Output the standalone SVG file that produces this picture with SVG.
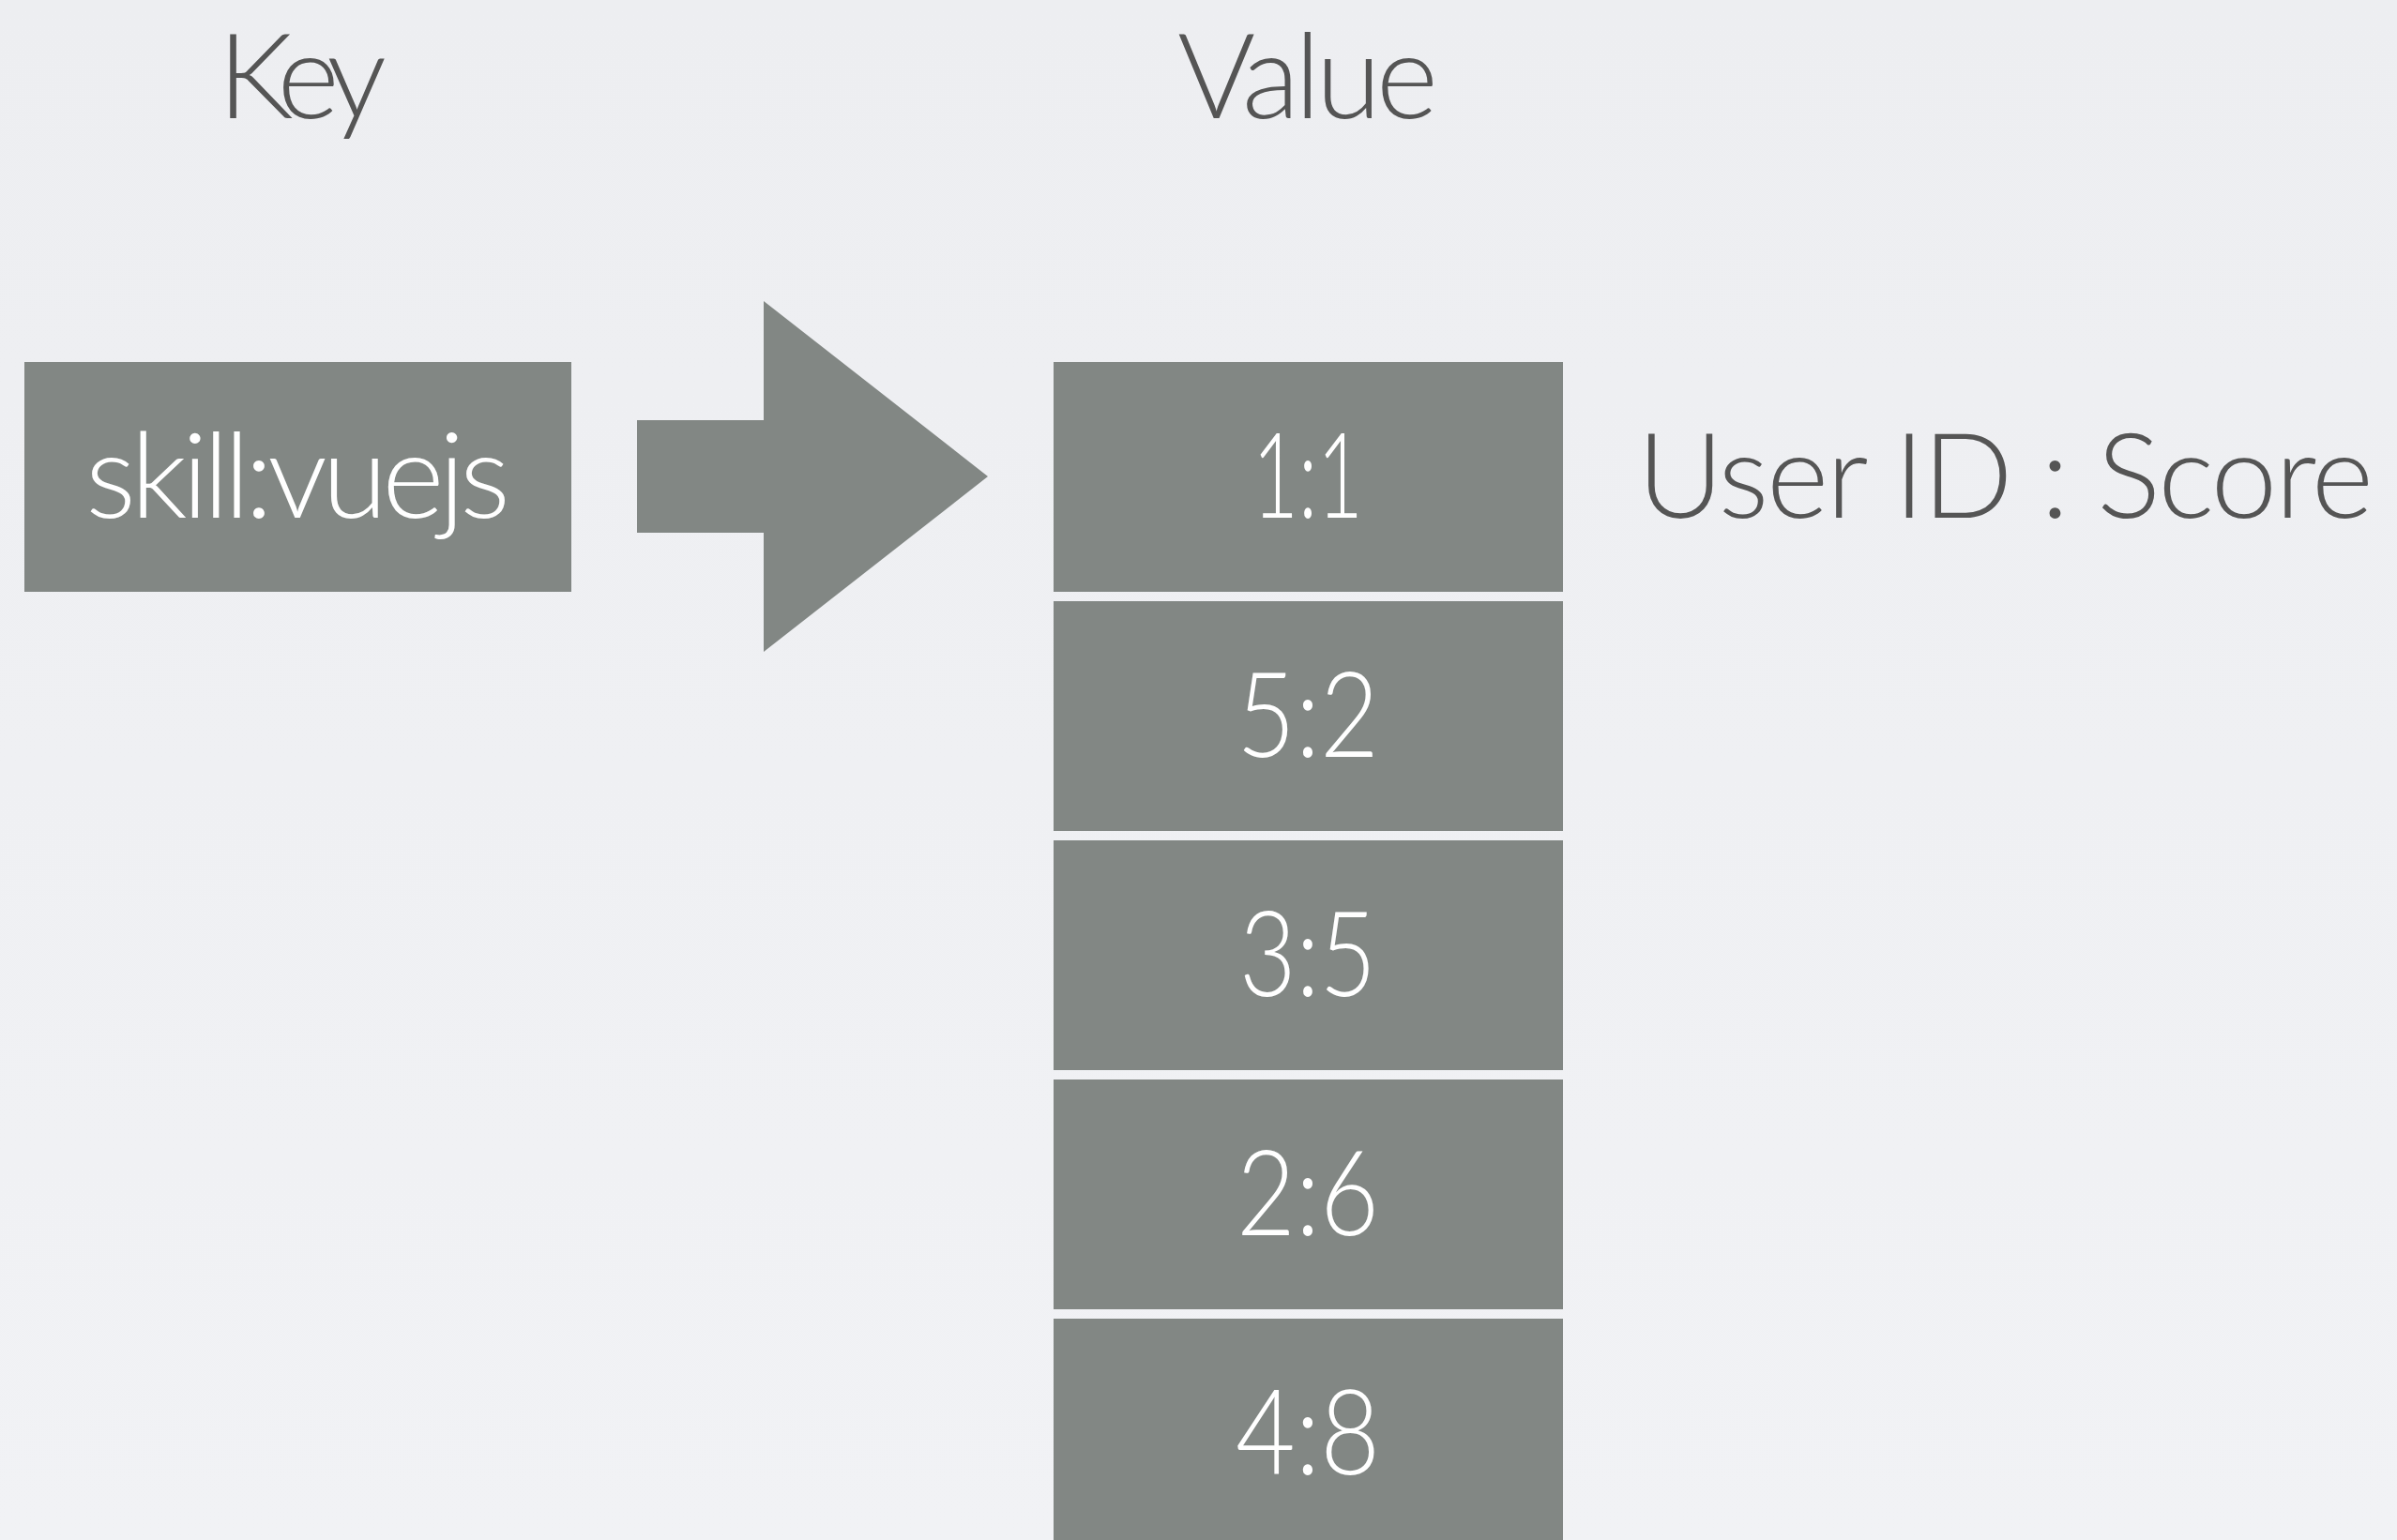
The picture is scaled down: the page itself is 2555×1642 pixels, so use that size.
<svg xmlns="http://www.w3.org/2000/svg" width="2555" height="1642" viewBox="0 0 2555 1642">
  <style>
    .box { fill: #828784; }
    .inbox { fill: #ffffff; font-family: Lato, "Open Sans", "Liberation Sans", sans-serif; font-weight: 300; font-size: 127px; text-anchor: middle; }
    .label { fill: #555555; font-family: Lato, "Open Sans", "Liberation Sans", sans-serif; font-weight: 300; font-size: 127px; }
    .arrow { fill: #828784; }
  </style>
  <defs>
    <linearGradient id="bg" x1="0" y1="0" x2="0" y2="1">
      <stop offset="0" stop-color="#edeef1"/>
      <stop offset="1" stop-color="#f1f2f5"/>
    </linearGradient>
  </defs>

  <rect x="0" y="0" width="2555" height="1642" fill="url(#bg)"/>

  <!-- column headings -->
  <text id="heading-key" class="label" x="322" y="126" text-anchor="middle" textLength="180" lengthAdjust="spacing">Key</text>
  <text id="heading-value" class="label" x="1394" y="126" text-anchor="middle" textLength="278" lengthAdjust="spacing">Value</text>

  <!-- key -->
  <g id="key">
    <rect class="box" x="26" y="386" width="583" height="245"/>
    <text class="inbox" x="317.5" y="552" textLength="453" lengthAdjust="spacing">skill:vuejs</text>
  </g>

  <!-- connectors -->
  <g id="connectors">
    <polygon class="arrow" points="679,448 814,448 814,321 1053,508 814,695 814,568 679,568"/>
  </g>

  <!-- sorted set members (digits narrowed to a condensed look) -->
  <g id="member-1-1">
    <rect class="box" x="1123" y="386" width="543" height="245"/>
    <text class="inbox" x="1394" y="552" textLength="118" lengthAdjust="spacingAndGlyphs">1:1</text>
  </g>
  <g id="member-5-2">
    <rect class="box" x="1123" y="641" width="543" height="245"/>
    <text class="inbox" x="1394" y="807" textLength="152" lengthAdjust="spacingAndGlyphs">5:2</text>
  </g>
  <g id="member-3-5">
    <rect class="box" x="1123" y="896" width="543" height="245"/>
    <text class="inbox" x="1394" y="1062" textLength="146" lengthAdjust="spacingAndGlyphs">3:5</text>
  </g>
  <g id="member-2-6">
    <rect class="box" x="1123" y="1151" width="543" height="245"/>
    <text class="inbox" x="1394" y="1317" textLength="152" lengthAdjust="spacingAndGlyphs">2:6</text>
  </g>
  <g id="member-4-8">
    <rect class="box" x="1123" y="1406" width="543" height="245"/>
    <text class="inbox" x="1394" y="1572" textLength="154" lengthAdjust="spacingAndGlyphs">4:8</text>
  </g>

  <!-- legend -->
  <text id="legend" class="label" x="1745" y="552" textLength="785" lengthAdjust="spacing">User ID : Score</text>
</svg>
